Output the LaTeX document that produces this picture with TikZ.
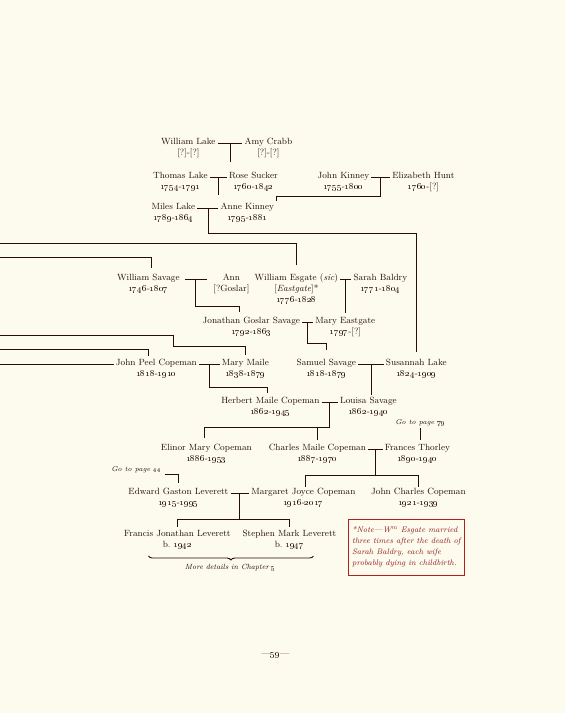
\documentclass[tikz,border=0pt]{standalone}
\usepackage{tikz}
\usetikzlibrary{calc,positioning,decorations.pathreplacing}
\definecolor{ink}{RGB}{40,12,12}
\definecolor{notered}{RGB}{180,30,30}
\definecolor{paper}{RGB}{252,251,238}
\newcommand{\yrs}[2]{\oldstylenums{#1}-\oldstylenums{#2}}

\begin{document}
\begin{tikzpicture}[x=1pt,y=-1pt,
  pn/.style={text=ink,font=\fontsize{9}{11}\selectfont,text height=4pt,text depth=2pt,inner xsep=2pt,inner ysep=0pt},
  yr/.style={pn,below=5pt of #1},
  ln/.style={draw=ink,line width=0.8pt},
  kid/.style={ln,shorten >=6pt},
  goto/.style={text=ink,font=\fontsize{7}{8}\selectfont\itshape,inner sep=1pt}]
  % page
  \fill[paper] (0,0) rectangle (565,713);
  % Lake and Kinney
  \node[pn] (wlake) at (188,143) {William Lake};
  \node[yr=wlake] (wlake-y) {[?]-[?]};
  \node[pn] (acrabb) at (268,143) {Amy Crabb};
  \node[yr=acrabb] (acrabb-y) {[?]-[?]};
  \node[pn] (tlake) at (180,177) {Thomas Lake};
  \node[yr=tlake] (tlake-y) {\yrs{1754}{1791}};
  \node[pn] (rsucker) at (253,177) {Rose Sucker};
  \node[yr=rsucker] (rsucker-y) {\yrs{1760}{1842}};
  \node[pn] (jkinney) at (343,177) {John Kinney};
  \node[yr=jkinney] (jkinney-y) {\yrs{1755}{1800}};
  \node[pn] (ehunt) at (423,177) {Elizabeth Hunt};
  \node[yr=ehunt] (ehunt-y) {\oldstylenums{1760}-[?]};
  \node[pn] (mlake) at (173,208) {Miles Lake};
  \node[yr=mlake] (mlake-y) {\yrs{1789}{1864}};
  \node[pn] (akinney) at (247,208) {Anne Kinney};
  \node[yr=akinney] (akinney-y) {\yrs{1795}{1881}};
  % Savage and Esgate
  \node[pn] (wsavage) at (148,279) {William Savage};
  \node[yr=wsavage] (wsavage-y) {\yrs{1746}{1807}};
  \node[pn] (ann) at (231,279) {Ann};
  \node[yr=ann] (ann-y) {[?Goslar]};
  \node[pn] (esgate) at (296,279) {William Esgate (\textit{sic})};
  \node[yr=esgate] (esgate-a) {[\textit{Eastgate}]*};
  \node[yr=esgate-a] (esgate-y) {\yrs{1776}{1828}};
  \node[pn] (sbaldry) at (380,279) {Sarah Baldry};
  \node[yr=sbaldry] (sbaldry-y) {\yrs{1771}{1804}};
  \node[pn] (jgs) at (251,322) {Jonathan Goslar Savage};
  \node[yr=jgs] (jgs-y) {\yrs{1792}{1863}};
  \node[pn] (meast) at (345,322) {Mary Eastgate};
  \node[yr=meast] (meast-y) {\oldstylenums{1797}-[?]};
  % Copeman
  \node[pn] (jpeel) at (156,364) {John Peel Copeman};
  \node[yr=jpeel] (jpeel-y) {\yrs{1818}{1910}};
  \node[pn] (mmaile) at (245,364) {Mary Maile};
  \node[yr=mmaile] (mmaile-y) {\yrs{1838}{1879}};
  \node[pn] (ssavage) at (326,364) {Samuel Savage};
  \node[yr=ssavage] (ssavage-y) {\yrs{1818}{1879}};
  \node[pn] (slake) at (416,364) {Susannah Lake};
  \node[yr=slake] (slake-y) {\yrs{1824}{1909}};
  \node[pn] (hmc) at (270,402) {Herbert Maile Copeman};
  \node[yr=hmc] (hmc-y) {\yrs{1862}{1945}};
  \node[pn] (lsav) at (368,402) {Louisa Savage};
  \node[yr=lsav] (lsav-y) {\yrs{1862}{1940}};
  \node[pn] (emc) at (206,449) {Elinor Mary Copeman};
  \node[yr=emc] (emc-y) {\yrs{1886}{1953}};
  \node[pn] (cmc) at (317,449) {Charles Maile Copeman};
  \node[yr=cmc] (cmc-y) {\yrs{1887}{1970}};
  \node[pn] (fthor) at (417,449) {Frances Thorley};
  \node[yr=fthor] (fthor-y) {\yrs{1890}{1940}};
  \node[goto] (go79) at (420,423) {Go to page \oldstylenums{79}};
  % Leverett
  \node[pn] (egl) at (178,493) {Edward Gaston Leverett};
  \node[yr=egl] (egl-y) {\yrs{1915}{1995}};
  \node[pn] (mjc) at (303,493) {Margaret Joyce Copeman};
  \node[yr=mjc] (mjc-y) {\yrs{1916}{2017}};
  \node[pn] (jcc) at (418,493) {John Charles Copeman};
  \node[yr=jcc] (jcc-y) {\yrs{1921}{1939}};
  \node[goto] (go44) at (136,470) {Go to page \oldstylenums{44}};
  \node[pn] (fjl) at (177,535) {Francis Jonathan Leverett};
  \node[yr=fjl] (fjl-y) {b.\ \oldstylenums{1942}};
  \node[pn] (sml) at (289,535) {Stephen Mark Leverett};
  \node[yr=sml] (sml-y) {b.\ \oldstylenums{1947}};
  % links from the page before
  \coordinate (edgeA) at (0,243);
  \coordinate (edgeB) at (0,257);
  \coordinate (edgeC) at (0,335);
  \coordinate (bendC) at (173,346);
  \coordinate (edgeD) at (0,349);
  \coordinate (edgeE) at (0,364);
  % marriages
  \coordinate (wl-m) at ($(wlake.east)!.5!(acrabb.west)$);
  \coordinate (tl-m) at ($(tlake.east)!.5!(rsucker.west)$);
  \coordinate (jk-m) at ($(jkinney.east)!.5!(ehunt.west)$);
  \coordinate (ml-m) at ($(mlake.east)!.5!(akinney.west)$);
  \coordinate (ws-m) at ($(wsavage.east)!.35!(ann.west)$);
  \coordinate (es-m) at ($(esgate.east)!.5!(sbaldry.west)$);
  \coordinate (jm-m) at ($(jgs.east)!.5!(meast.west)$);
  \coordinate (jp-m) at ($(jpeel.east)!.5!(mmaile.west)$);
  \coordinate (ss-m) at ($(ssavage.east)!.5!(slake.west)$);
  \coordinate (hl-m) at ($(hmc.east)!.5!(lsav.west)$);
  \coordinate (cf-m) at ($(cmc.east)!.5!(fthor.west)$);
  \coordinate (em-m) at ($(egl.east)!.5!(mjc.west)$);
  \draw[ln] (wlake.east) -- (acrabb.west);
  \draw[ln] (tlake.east) -- (rsucker.west);
  \draw[ln] (jkinney.east) -- (ehunt.west);
  \draw[ln] (mlake.east) -- (akinney.west);
  \draw[ln,shorten <=3pt,shorten >=14pt] (wsavage.east) -- (ann.west);
  \draw[ln] (esgate.east) -- (sbaldry.west);
  \draw[ln] (jgs.east) -- (meast.west);
  \draw[ln] (jpeel.east) -- (mmaile.west);
  \draw[ln] (ssavage.east) -- (slake.west);
  \draw[ln] (hmc.east) -- (lsav.west);
  \draw[ln] (cmc.east) -- (fthor.west);
  \draw[ln] (egl.east) -- (mjc.west);
  % children
  \draw[ln] (wl-m) -- ++(0,19);
  \draw[ln] (tl-m) -- ++(0,18);
  \draw[kid,shorten >=4pt] (jk-m) -- ++(0,19) -| (akinney.north east);
  \draw[kid,shorten >=9pt] (ml-m) -- ++(0,25) -| (slake.north);
  \draw[kid,shorten >=11pt] (edgeA) -| (esgate.north);
  \draw[kid,shorten >=8pt] (edgeB) -| ([xshift=3pt]wsavage.north);
  \draw[kid,shorten >=7pt] (ws-m) -- ++(0,27) -| ([xshift=-12pt]jgs.north);
  \draw[kid] (es-m) -- (es-m |- meast.north);
  \draw[kid,shorten >=11pt] (jm-m) -- ++(0,21) -| (ssavage.north);
  \draw[kid] (edgeC) -| (bendC) -| (mmaile.north);
  \draw[kid,shorten >=5pt] (edgeD) -| ([xshift=-8pt]jpeel.north);
  \draw[ln] (edgeE) -- (jpeel.west);
  \draw[kid] (jp-m) -- ++(0,23) -| ([xshift=-3pt]hmc.north);
  \draw[kid,shorten >=4pt] (ss-m) -- (ss-m |- lsav.north);
  \draw[ln] (hl-m) -- ++(0,25) coordinate (hl-j);
  \draw[kid,shorten >=8pt] (hl-j) -| ([xshift=-2pt]emc.north);
  \draw[kid] (hl-j -| cmc.north) -- (cmc.north);
  \draw[kid,shorten <=1pt] (go79.south) -- (go79.south |- fthor.north);
  \draw[ln] (cf-m) -- ++(0,26) coordinate (cf-j);
  \draw[kid,shorten >=3pt] (cf-j) -| ([xshift=2pt]mjc.north);
  \draw[kid,shorten >=3pt] (cf-j) -| (jcc.north);
  \draw[kid,shorten >=7pt,shorten <=2pt] (go44.south east) -| (egl.north);
  \draw[ln] (em-m) -- ++(0,26) coordinate (em-j);
  \draw[kid,shorten >=5pt] (em-j) -| (fjl.north);
  \draw[kid,shorten >=5pt] (em-j) -| (sml.north);
  % brace and note
  \draw[ink,line width=0.9pt,decorate,decoration={brace,mirror,amplitude=4pt}] (148,556) -- (313,556);
  \node[goto,font=\fontsize{7.5}{9}\selectfont\itshape] (more) at (230,568) {More details in Chapter \oldstylenums{5}};
  \node[draw=notered,line width=0.8pt,text=notered!80!black,font=\fontsize{8}{11}\selectfont\itshape,align=left,minimum width=114pt,minimum height=56pt,inner sep=4pt] (note) at (406,547)
    {*Note---W\textsuperscript{m} Esgate married\\three times after the death of\\Sarah Baldry, each wife\\probably dying in childbirth.};
  % page number
  \node[pn] (pg) at (275,655) {\textemdash\oldstylenums{59}\textemdash};
\end{tikzpicture}
\end{document}
